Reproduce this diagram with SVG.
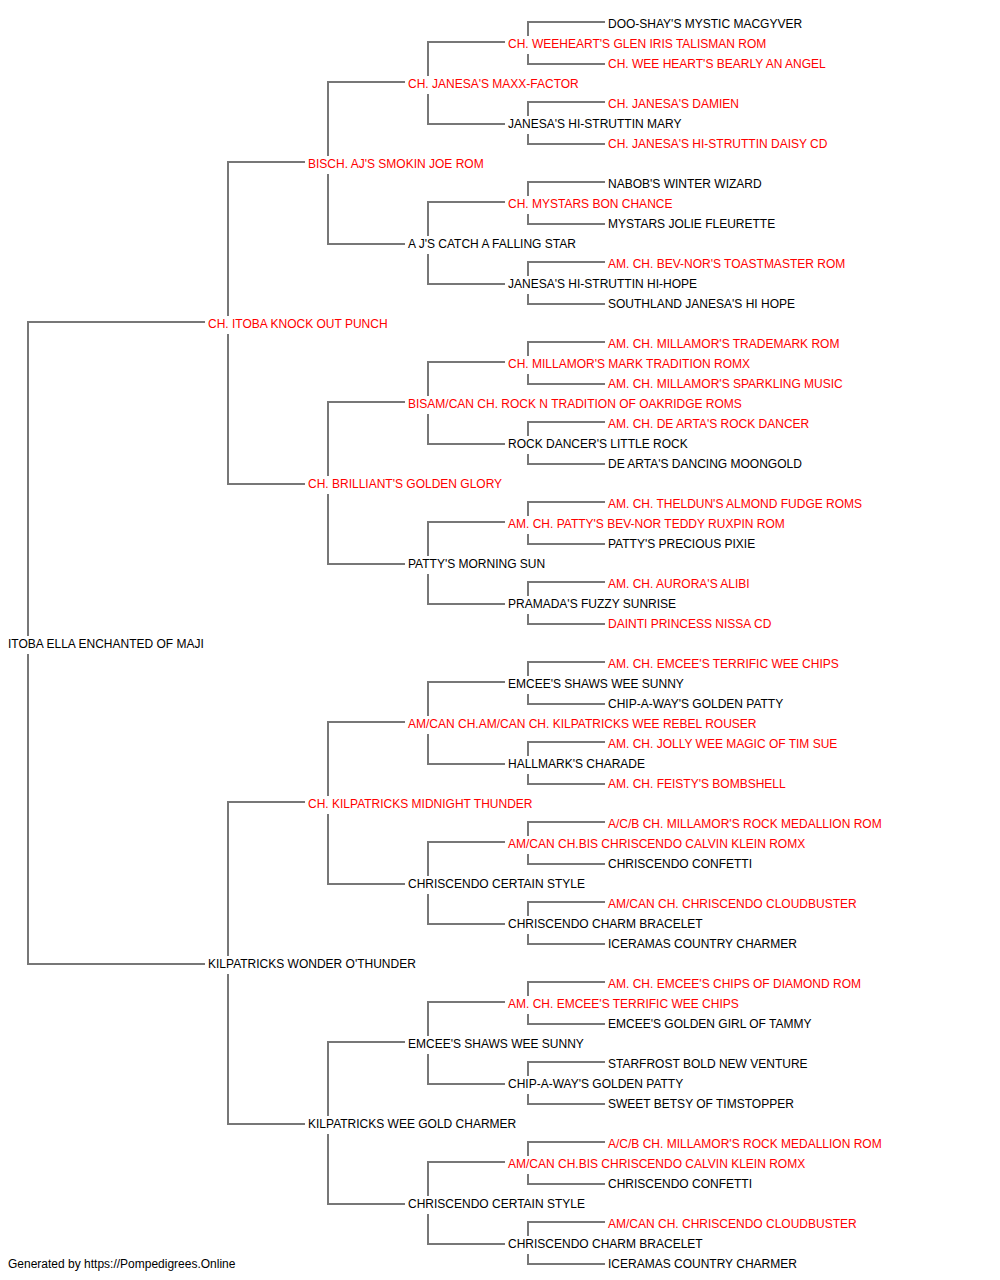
<svg xmlns="http://www.w3.org/2000/svg" width="1000" height="1280" viewBox="0 0 1000 1280">
<style>
text{font-family:"Liberation Sans",Arial,sans-serif;font-size:12px;fill:#000}
.r{fill:#ff0000}
.c{fill:none;stroke:#777;stroke-width:2}
</style>
<rect width="1000" height="1280" fill="#fff"/>
<g id="connectors" class="c">
<path d="M205,322H28V636M28,654V964H205"/>
<path d="M305,162H228V316M228,334V484H305"/>
<path d="M305,802H228V956M228,974V1124H305"/>
<path d="M405,82H328V156M328,174V244H405"/>
<path d="M405,402H328V476M328,494V564H405"/>
<path d="M405,722H328V796M328,814V884H405"/>
<path d="M405,1042H328V1116M328,1134V1204H405"/>
<path d="M505,42H428V76M428,94V124H505"/>
<path d="M505,202H428V236M428,254V284H505"/>
<path d="M505,362H428V396M428,414V444H505"/>
<path d="M505,522H428V556M428,574V604H505"/>
<path d="M505,682H428V716M428,734V764H505"/>
<path d="M505,842H428V876M428,894V924H505"/>
<path d="M505,1002H428V1036M428,1054V1084H505"/>
<path d="M505,1162H428V1196M428,1214V1244H505"/>
<path d="M605,22H528V36M528,54V64H605"/>
<path d="M605,102H528V116M528,134V144H605"/>
<path d="M605,182H528V196M528,214V224H605"/>
<path d="M605,262H528V276M528,294V304H605"/>
<path d="M605,342H528V356M528,374V384H605"/>
<path d="M605,422H528V436M528,454V464H605"/>
<path d="M605,502H528V516M528,534V544H605"/>
<path d="M605,582H528V596M528,614V624H605"/>
<path d="M605,662H528V676M528,694V704H605"/>
<path d="M605,742H528V756M528,774V784H605"/>
<path d="M605,822H528V836M528,854V864H605"/>
<path d="M605,902H528V916M528,934V944H605"/>
<path d="M605,982H528V996M528,1014V1024H605"/>
<path d="M605,1062H528V1076M528,1094V1104H605"/>
<path d="M605,1142H528V1156M528,1174V1184H605"/>
<path d="M605,1222H528V1236M528,1254V1264H605"/>
</g>
<g id="n0"><text x="8" y="648">ITOBA ELLA ENCHANTED OF MAJI</text></g>
<g id="n1"><text class="r" x="208" y="328">CH. ITOBA KNOCK OUT PUNCH</text></g>
<g id="n2"><text x="208" y="968">KILPATRICKS WONDER O'THUNDER</text></g>
<g id="n3"><text class="r" x="308" y="168">BISCH. AJ'S SMOKIN JOE ROM</text></g>
<g id="n4"><text class="r" x="308" y="488">CH. BRILLIANT'S GOLDEN GLORY</text></g>
<g id="n5"><text class="r" x="308" y="808">CH. KILPATRICKS MIDNIGHT THUNDER</text></g>
<g id="n6"><text x="308" y="1128">KILPATRICKS WEE GOLD CHARMER</text></g>
<g id="n7"><text class="r" x="408" y="88">CH. JANESA'S MAXX-FACTOR</text></g>
<g id="n8"><text x="408" y="248">A J'S CATCH A FALLING STAR</text></g>
<g id="n9"><text class="r" x="408" y="408">BISAM/CAN CH. ROCK N TRADITION OF OAKRIDGE ROMS</text></g>
<g id="n10"><text x="408" y="568">PATTY'S MORNING SUN</text></g>
<g id="n11"><text class="r" x="408" y="728">AM/CAN CH.AM/CAN CH. KILPATRICKS WEE REBEL ROUSER</text></g>
<g id="n12"><text x="408" y="888">CHRISCENDO CERTAIN STYLE</text></g>
<g id="n13"><text x="408" y="1048">EMCEE'S SHAWS WEE SUNNY</text></g>
<g id="n14"><text x="408" y="1208">CHRISCENDO CERTAIN STYLE</text></g>
<g id="n15"><text class="r" x="508" y="48">CH. WEEHEART'S GLEN IRIS TALISMAN ROM</text></g>
<g id="n16"><text x="508" y="128">JANESA'S HI-STRUTTIN MARY</text></g>
<g id="n17"><text class="r" x="508" y="208">CH. MYSTARS BON CHANCE</text></g>
<g id="n18"><text x="508" y="288">JANESA'S HI-STRUTTIN HI-HOPE</text></g>
<g id="n19"><text class="r" x="508" y="368">CH. MILLAMOR'S MARK TRADITION ROMX</text></g>
<g id="n20"><text x="508" y="448">ROCK DANCER'S LITTLE ROCK</text></g>
<g id="n21"><text class="r" x="508" y="528">AM. CH. PATTY'S BEV-NOR TEDDY RUXPIN ROM</text></g>
<g id="n22"><text x="508" y="608">PRAMADA'S FUZZY SUNRISE</text></g>
<g id="n23"><text x="508" y="688">EMCEE'S SHAWS WEE SUNNY</text></g>
<g id="n24"><text x="508" y="768">HALLMARK'S CHARADE</text></g>
<g id="n25"><text class="r" x="508" y="848">AM/CAN CH.BIS CHRISCENDO CALVIN KLEIN ROMX</text></g>
<g id="n26"><text x="508" y="928">CHRISCENDO CHARM BRACELET</text></g>
<g id="n27"><text class="r" x="508" y="1008">AM. CH. EMCEE'S TERRIFIC WEE CHIPS</text></g>
<g id="n28"><text x="508" y="1088">CHIP-A-WAY'S GOLDEN PATTY</text></g>
<g id="n29"><text class="r" x="508" y="1168">AM/CAN CH.BIS CHRISCENDO CALVIN KLEIN ROMX</text></g>
<g id="n30"><text x="508" y="1248">CHRISCENDO CHARM BRACELET</text></g>
<g id="n31"><text x="608" y="28">DOO-SHAY'S MYSTIC MACGYVER</text></g>
<g id="n32"><text class="r" x="608" y="68">CH. WEE HEART'S BEARLY AN ANGEL</text></g>
<g id="n33"><text class="r" x="608" y="108">CH. JANESA'S DAMIEN</text></g>
<g id="n34"><text class="r" x="608" y="148">CH. JANESA'S HI-STRUTTIN DAISY CD</text></g>
<g id="n35"><text x="608" y="188">NABOB'S WINTER WIZARD</text></g>
<g id="n36"><text x="608" y="228">MYSTARS JOLIE FLEURETTE</text></g>
<g id="n37"><text class="r" x="608" y="268">AM. CH. BEV-NOR'S TOASTMASTER ROM</text></g>
<g id="n38"><text x="608" y="308">SOUTHLAND JANESA'S HI HOPE</text></g>
<g id="n39"><text class="r" x="608" y="348">AM. CH. MILLAMOR'S TRADEMARK ROM</text></g>
<g id="n40"><text class="r" x="608" y="388">AM. CH. MILLAMOR'S SPARKLING MUSIC</text></g>
<g id="n41"><text class="r" x="608" y="428">AM. CH. DE ARTA'S ROCK DANCER</text></g>
<g id="n42"><text x="608" y="468">DE ARTA'S DANCING MOONGOLD</text></g>
<g id="n43"><text class="r" x="608" y="508">AM. CH. THELDUN'S ALMOND FUDGE ROMS</text></g>
<g id="n44"><text x="608" y="548">PATTY'S PRECIOUS PIXIE</text></g>
<g id="n45"><text class="r" x="608" y="588">AM. CH. AURORA'S ALIBI</text></g>
<g id="n46"><text class="r" x="608" y="628">DAINTI PRINCESS NISSA CD</text></g>
<g id="n47"><text class="r" x="608" y="668">AM. CH. EMCEE'S TERRIFIC WEE CHIPS</text></g>
<g id="n48"><text x="608" y="708">CHIP-A-WAY'S GOLDEN PATTY</text></g>
<g id="n49"><text class="r" x="608" y="748">AM. CH. JOLLY WEE MAGIC OF TIM SUE</text></g>
<g id="n50"><text class="r" x="608" y="788">AM. CH. FEISTY'S BOMBSHELL</text></g>
<g id="n51"><text class="r" x="608" y="828">A/C/B CH. MILLAMOR'S ROCK MEDALLION ROM</text></g>
<g id="n52"><text x="608" y="868">CHRISCENDO CONFETTI</text></g>
<g id="n53"><text class="r" x="608" y="908">AM/CAN CH. CHRISCENDO CLOUDBUSTER</text></g>
<g id="n54"><text x="608" y="948">ICERAMAS COUNTRY CHARMER</text></g>
<g id="n55"><text class="r" x="608" y="988">AM. CH. EMCEE'S CHIPS OF DIAMOND ROM</text></g>
<g id="n56"><text x="608" y="1028">EMCEE'S GOLDEN GIRL OF TAMMY</text></g>
<g id="n57"><text x="608" y="1068">STARFROST BOLD NEW VENTURE</text></g>
<g id="n58"><text x="608" y="1108">SWEET BETSY OF TIMSTOPPER</text></g>
<g id="n59"><text class="r" x="608" y="1148">A/C/B CH. MILLAMOR'S ROCK MEDALLION ROM</text></g>
<g id="n60"><text x="608" y="1188">CHRISCENDO CONFETTI</text></g>
<g id="n61"><text class="r" x="608" y="1228">AM/CAN CH. CHRISCENDO CLOUDBUSTER</text></g>
<g id="n62"><text x="608" y="1268">ICERAMAS COUNTRY CHARMER</text></g>
<g id="footer"><text x="8" y="1268">Generated by https://Pompedigrees.Online</text></g>
</svg>
